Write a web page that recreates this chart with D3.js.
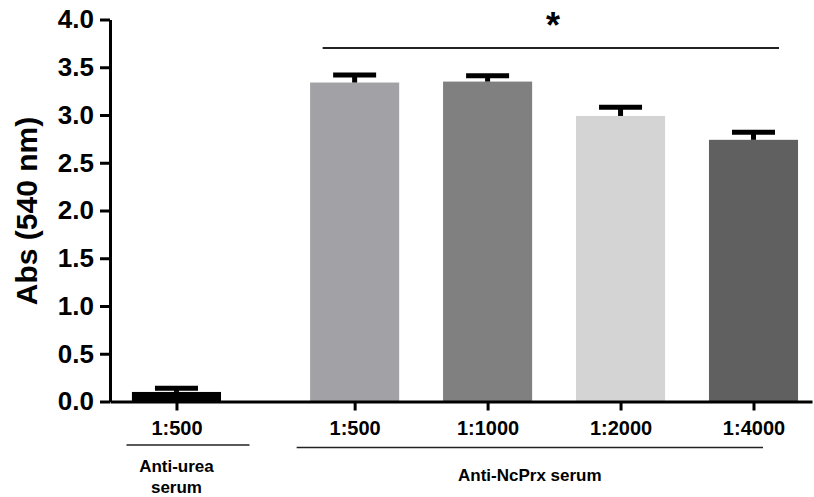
<!DOCTYPE html>
<html>
<head>
<meta charset="utf-8">
<script src="https://cdn.jsdelivr.net/npm/d3@7"></script>
<style>
  body { margin: 0; background: #fff; }
  svg text { font-family: "Liberation Sans", Arial, sans-serif; font-weight: bold; fill: #000; }
</style>
</head>
<body>
<div id="canvas"></div>
<script>
// ---- DATA ----
var dilutions = ['1:500', '1:500', '1:1000', '1:2000', '1:4000'];
var groupOf = [0, 1, 1, 1, 1];
var groupNames = [['Anti-urea', 'serum'], ['Anti-NcPrx serum']];
var means = [0.10, 3.34, 3.35, 2.99, 2.74];
var errors = [0.04, 0.08, 0.06, 0.09, 0.08];
var barColors = ['#000000', '#a2a1a5', '#808080', '#d4d4d4', '#606060'];
var yTicks = [0, 0.5, 1, 1.5, 2, 2.5, 3, 3.5, 4];

// ---- CONVENTIONS ----
var outerWidth = 814, outerHeight = 497;
var groupGap = 0.34;

var svg = d3.select('#canvas')
    .append('svg')
    .attr('width', outerWidth)
    .attr('height', outerHeight);

// slot position of each bar (index plus a gap between groups)
var slots = dilutions.map(function(d, i){ return i + groupGap * groupOf[i]; });

// ---- SCALES ----
var scaleX = d3.scaleLinear()
    .domain([-0.5, 4.78])
    .range([110, 812]);

var scaleY = d3.scaleLinear()
    .domain([0, 4])
    .range([401.5, 19.5]);

var barWidth = (scaleX(1) - scaleX(0)) * 0.67;

// ---- AXES ----
var axisY = d3.axisLeft(scaleY)
    .tickValues(yTicks)
    .tickFormat(d3.format('.1f'))
    .tickSize(10)
    .tickSizeOuter(0)
    .tickPadding(6);

var axisX = d3.axisBottom(scaleX)
    .tickValues(slots)
    .tickFormat(function(d, i){ return dilutions[i]; })
    .tickSize(9)
    .tickSizeOuter(0)
    .tickPadding(10);

// ---- BARS ----
var bars = svg.append('g').attr('class', 'bars');
bars.selectAll('rect')
    .data(means)
    .enter()
    .append('rect')
    .attr('x', function(d, i){ return scaleX(slots[i]) - barWidth / 2; })
    .attr('y', function(d){ return scaleY(d); })
    .attr('width', barWidth)
    .attr('height', function(d){ return scaleY(0) - scaleY(d); })
    .style('fill', function(d, i){ return barColors[i]; });

// error bars (upper only)
var err = svg.append('g').attr('class', 'errors');
err.selectAll('.stem')
    .data(means)
    .enter()
    .append('line')
    .attr('x1', function(d, i){ return scaleX(slots[i]); })
    .attr('x2', function(d, i){ return scaleX(slots[i]); })
    .attr('y1', function(d){ return scaleY(d); })
    .attr('y2', function(d, i){ return scaleY(d + errors[i]); })
    .style('stroke', '#000')
    .style('stroke-width', 5);
err.selectAll('.cap')
    .data(means)
    .enter()
    .append('line')
    .attr('x1', function(d, i){ return scaleX(slots[i]) - 21.5; })
    .attr('x2', function(d, i){ return scaleX(slots[i]) + 21.5; })
    .attr('y1', function(d, i){ return scaleY(d + errors[i]); })
    .attr('y2', function(d, i){ return scaleY(d + errors[i]); })
    .style('stroke', '#000')
    .style('stroke-width', 5);

// ---- DRAW AXES ----
var gy = svg.append('g').attr('class', 'axis axis-y')
    .attr('transform', 'translate(110,0)')
    .call(axisY);
var gx = svg.append('g').attr('class', 'axis axis-x')
    .attr('transform', 'translate(0,' + scaleY(0) + ')')
    .call(axisX);

svg.selectAll('.axis path, .axis line')
    .style('stroke', '#000')
    .style('stroke-width', 3);
gy.selectAll('text').style('font-size', '26px').style('font-family', '"Liberation Sans", Arial, sans-serif').style('font-weight', 'bold');
gx.selectAll('text').style('font-size', '20px').style('font-family', '"Liberation Sans", Arial, sans-serif').style('font-weight', 'bold');

// y title
svg.append('text')
    .attr('transform', 'translate(37,211) rotate(-90)')
    .attr('text-anchor', 'middle')
    .style('font-size', '30px')
    .text('Abs (540 nm)');

// ---- GROUP LABELS ----
var first = slots[1], last = slots[slots.length - 1];
svg.append('line')
    .attr('x1', scaleX(slots[0]) - 50).attr('x2', scaleX(slots[0]) + 73)
    .attr('y1', 445).attr('y2', 445)
    .style('stroke', '#222').style('stroke-width', 1.5);
svg.append('line')
    .attr('x1', scaleX(first) - 58).attr('x2', scaleX(last) + 9.5)
    .attr('y1', 447.5).attr('y2', 447.5)
    .style('stroke', '#222').style('stroke-width', 1.5);

svg.selectAll('.urea-label')
    .data(groupNames[0])
    .enter()
    .append('text')
    .attr('x', scaleX(slots[0]))
    .attr('y', function(d, i){ return 472 + i * 21; })
    .attr('text-anchor', 'middle')
    .style('font-size', '17px')
    .text(function(d){ return d; });

svg.append('text')
    .attr('x', (scaleX(first) - 58 + scaleX(last) + 9.5) / 2)
    .attr('y', 481)
    .attr('text-anchor', 'middle')
    .style('font-size', '17px')
    .text(groupNames[1][0]);

// ---- SIGNIFICANCE ----
svg.append('line')
    .attr('x1', scaleX(first) - 32).attr('x2', scaleX(last) + 25.5)
    .attr('y1', 48).attr('y2', 48)
    .style('stroke', '#222').style('stroke-width', 1.8);
svg.append('text')
    .attr('x', 553)
    .attr('y', 38)
    .attr('text-anchor', 'middle')
    .style('font-size', '36px')
    .text('*');
</script>
</body>
</html>
